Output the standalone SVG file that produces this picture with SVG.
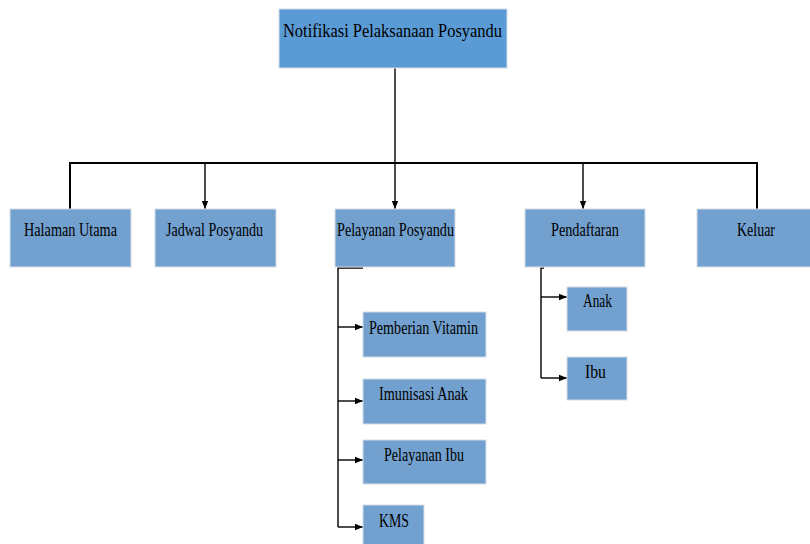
<svg xmlns="http://www.w3.org/2000/svg" width="810" height="544" viewBox="0 0 810 544">
<style>
.box{fill:#72a0cf;stroke:#d6dde6;stroke-width:1}
.top{fill:#5b9bd5;stroke:#d6dde6;stroke-width:1}
.t{font-family:"Liberation Serif","Times New Roman",serif;font-size:18px;fill:#000;text-anchor:start}
.c{fill:none;stroke:#000;stroke-width:1.4}
.m{fill:none;stroke:#000;stroke-width:2}
</style>
<defs>
<marker id="ah" viewBox="0 0 8 8" refX="8" refY="4" markerWidth="8" markerHeight="8" markerUnits="userSpaceOnUse" orient="auto">
<path d="M0,0.8 L8,4 L0,7.2 Z" fill="#000"/>
</marker>
</defs>
<g id="connectors">
<line class="c" x1="395" y1="68" x2="395" y2="163"/>
<polyline class="m" points="70,209 70,163 757,163 757,209"/>
<line class="c" x1="205" y1="163" x2="205" y2="209" marker-end="url(#ah)"/>
<line class="c" x1="395" y1="163" x2="395" y2="209" marker-end="url(#ah)"/>
<line class="c" x1="583" y1="163" x2="583" y2="209" marker-end="url(#ah)"/>
<polyline class="c" points="363,268 338,268 338,527"/>
<line class="c" x1="338" y1="327" x2="363" y2="327" marker-end="url(#ah)"/>
<line class="c" x1="338" y1="401" x2="363" y2="401" marker-end="url(#ah)"/>
<line class="c" x1="338" y1="460" x2="363" y2="460" marker-end="url(#ah)"/>
<line class="c" x1="338" y1="527" x2="363" y2="527" marker-end="url(#ah)"/>
<polyline class="c" points="544,268 541,268 541,378"/>
<line class="c" x1="541" y1="297" x2="567" y2="297" marker-end="url(#ah)"/>
<line class="c" x1="541" y1="378" x2="567" y2="378" marker-end="url(#ah)"/>
</g>
<g id="n-root"><rect class="top" x="279" y="9" width="228" height="59"/><text class="t" x="283" y="37" textLength="219" lengthAdjust="spacingAndGlyphs" font-size="20">Notifikasi Pelaksanaan Posyandu</text></g>
<g id="n-halaman"><rect class="box" x="10" y="209" width="121" height="58"/><text class="t" x="24" y="236" textLength="93" lengthAdjust="spacingAndGlyphs">Halaman Utama</text></g>
<g id="n-jadwal"><rect class="box" x="155" y="209" width="121" height="58"/><text class="t" x="166" y="236" textLength="97" lengthAdjust="spacingAndGlyphs">Jadwal Posyandu</text></g>
<g id="n-pelayanan"><rect class="box" x="335" y="209" width="120" height="58"/><text class="t" x="337" y="236" textLength="117" lengthAdjust="spacingAndGlyphs">Pelayanan Posyandu</text></g>
<g id="n-pendaftaran"><rect class="box" x="525" y="209" width="120" height="58"/><text class="t" x="551" y="236" textLength="68" lengthAdjust="spacingAndGlyphs">Pendaftaran</text></g>
<g id="n-keluar"><rect class="box" x="697" y="209" width="120" height="58"/><text class="t" x="737" y="236" textLength="38" lengthAdjust="spacingAndGlyphs">Keluar</text></g>
<g id="n-vitamin"><rect class="box" x="363" y="312" width="123" height="45"/><text class="t" x="369" y="334" textLength="109" lengthAdjust="spacingAndGlyphs">Pemberian Vitamin</text></g>
<g id="n-imunisasi"><rect class="box" x="363" y="379" width="123" height="45"/><text class="t" x="379" y="400" textLength="89" lengthAdjust="spacingAndGlyphs">Imunisasi Anak</text></g>
<g id="n-ibu-layanan"><rect class="box" x="363" y="440" width="123" height="44"/><text class="t" x="384" y="461" textLength="80" lengthAdjust="spacingAndGlyphs">Pelayanan Ibu</text></g>
<g id="n-kms"><rect class="box" x="363" y="505" width="61" height="45"/><text class="t" x="379" y="527" textLength="30" lengthAdjust="spacingAndGlyphs">KMS</text></g>
<g id="n-anak"><rect class="box" x="567" y="287" width="60" height="44"/><text class="t" x="583" y="307" textLength="29" lengthAdjust="spacingAndGlyphs">Anak</text></g>
<g id="n-ibu"><rect class="box" x="567" y="357" width="60" height="43"/><text class="t" x="585" y="378" textLength="21" lengthAdjust="spacingAndGlyphs">Ibu</text></g>
</svg>
